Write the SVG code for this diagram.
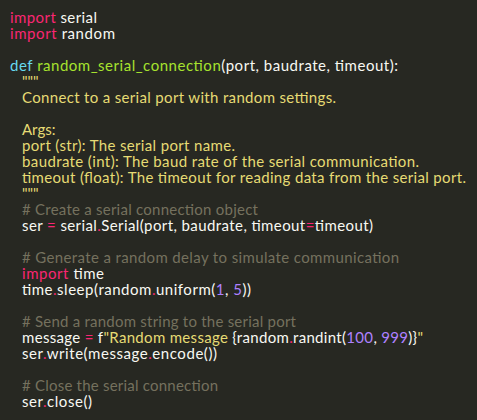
<svg xmlns="http://www.w3.org/2000/svg" width="477" height="420" viewBox="0 0 477 420">
<style>
text{font-family:Lato,"Open Sans","Noto Sans",sans-serif;font-size:15px;fill:#f8f8f2;white-space:pre}
.k{fill:#f92672}.d{fill:#66d9ef}.f{fill:#a6e22e}.s{fill:#e6db74}.c{fill:#75715e}.n{fill:#ae81ff}
</style>
<rect width="477" height="420" fill="#272822"/>
<g id="code" xml:space="preserve">
<text x="10" y="23" textLength="87"><tspan class="k">import</tspan> serial</text>
<text x="10" y="39" textLength="105"><tspan class="k">import</tspan> random</text>
<text x="10" y="71" textLength="388"><tspan class="d">def</tspan> <tspan class="f">random_serial_connection</tspan>(port, baudrate, timeout):</text>
<text x="22" y="87" class="s">"""</text>
<text x="22" y="103" class="s" textLength="314">Connect to a serial port with random settings.</text>
<text x="22" y="135" class="s">Args:</text>
<text x="22" y="151" class="s" textLength="213">port (str): The serial port name.</text>
<text x="22" y="167" class="s" textLength="397">baudrate (int): The baud rate of the serial communication.</text>
<text x="22" y="183" class="s" textLength="444">timeout (float): The timeout for reading data from the serial port.</text>
<text x="22" y="199" class="s">"""</text>
<text x="22" y="215" class="c" textLength="236"># Create a serial connection object</text>
<text x="22" y="231" textLength="351">ser <tspan class="k">=</tspan> serial<tspan class="k">.</tspan>Serial(port, baudrate, timeout<tspan class="k">=</tspan>timeout)</text>
<text x="22" y="263" class="c" textLength="377"># Generate a random delay to simulate communication</text>
<text x="22" y="279" textLength="82"><tspan class="k">import</tspan> time</text>
<text x="22" y="295" textLength="229">time<tspan class="k">.</tspan>sleep(random<tspan class="k">.</tspan>uniform(<tspan class="n">1</tspan>, <tspan class="n">5</tspan>))</text>
<text x="22" y="327" class="c" textLength="274"># Send a random string to the serial port</text>
<text x="22" y="343" textLength="401">message <tspan class="k">=</tspan> f<tspan class="s">"Random message </tspan>{random<tspan class="k">.</tspan>randint(<tspan class="n">100</tspan>, <tspan class="n">999</tspan>)}<tspan class="s">"</tspan></text>
<text x="22" y="359" textLength="195">ser<tspan class="k">.</tspan>write(message<tspan class="k">.</tspan>encode())</text>
<text x="22" y="391" class="c" textLength="196"># Close the serial connection</text>
<text x="22" y="407" textLength="70">ser<tspan class="k">.</tspan>close()</text>
</g>
</svg>
